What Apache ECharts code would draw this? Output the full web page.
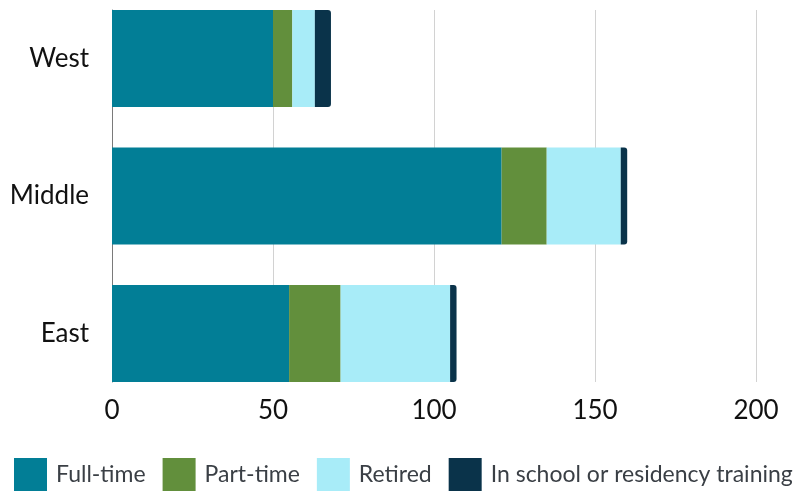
<!DOCTYPE html>
<html>
<head>
<meta charset="utf-8">
<script src="https://cdn.jsdelivr.net/npm/echarts@6/dist/echarts.min.js"></script>
<style>
  html, body { margin: 0; padding: 0; background: #fff; }
  #chart { width: 801px; height: 491px; }
</style>
</head>
<body>
<div id="chart"></div>
<script>
// Regions, top to bottom
const regions = ['West', 'Middle', 'East'];

// Head counts by employment status
const fullTime = [50, 121, 55];
const partTime = [6, 14, 16];
const retired = [7, 23, 34];
const inTraining = [5, 2, 2];

const seriesNames = ['Full-time', 'Part-time', 'Retired', 'In school or residency training'];
const seriesColors = ['#027E96', '#628F3C', '#A8ECF8', '#0A334A'];
const seriesValues = [fullTime, partTime, retired, inTraining];

const xTicks = [0, 50, 100, 150, 200];

const font = 'Lato';
const chart = echarts.init(document.getElementById('chart'));

const series = seriesValues.map((vals, i) => ({
  name: seriesNames[i],
  type: 'bar',
  stack: 'total',
  xAxisIndex: 0,
  yAxisIndex: 0,
  barWidth: 97,
  itemStyle: {
    color: seriesColors[i],
    borderRadius: i === seriesValues.length - 1 ? [0, 3, 3, 0] : 0
  },
  data: vals
}));

chart.setOption({
  animation: false,
  textStyle: { fontFamily: font },
  grid: [
    // bars
    { left: 112, right: 45, top: -10.25, height: 412.5, outerBoundsMode: 'none', containLabel: false },
    // gridlines, value labels and baseline
    { left: 112, right: 45, top: 10, height: 372, outerBoundsMode: 'none', containLabel: false }
  ],
  xAxis: [
    {
      gridIndex: 0, type: 'value', min: xTicks[0], max: xTicks[xTicks.length - 1],
      interval: 50, show: false
    },
    {
      gridIndex: 1, type: 'value', min: xTicks[0], max: xTicks[xTicks.length - 1],
      interval: 50,
      axisLine: { show: false }, axisTick: { show: false },
      splitLine: { show: true, lineStyle: { color: '#d2d2d2', width: 1 } },
      axisLabel: { margin: 16, color: '#111', fontSize: 26, fontFamily: font }
    }
  ],
  yAxis: [
    {
      gridIndex: 0, type: 'category', data: regions, inverse: true,
      axisLine: { show: false }, axisTick: { show: false },
      axisLabel: { margin: 23, color: '#111', fontSize: 26, fontFamily: font }
    },
    {
      gridIndex: 1, type: 'category', data: regions, inverse: true,
      axisLine: { show: true, lineStyle: { color: '#7a7a7a', width: 1 } },
      axisTick: { show: false }, axisLabel: { show: false }
    }
  ],
  legend: {
    left: 14, top: 458, width: 900, padding: 0,
    icon: 'rect', itemWidth: 33, itemHeight: 33, itemGap: 17,
    data: seriesNames,
    textStyle: { color: '#3a3f45', fontSize: 23, fontFamily: font, padding: [0, 0, 0, 4] }
  },
  series: series
});
</script>
</body>
</html>
